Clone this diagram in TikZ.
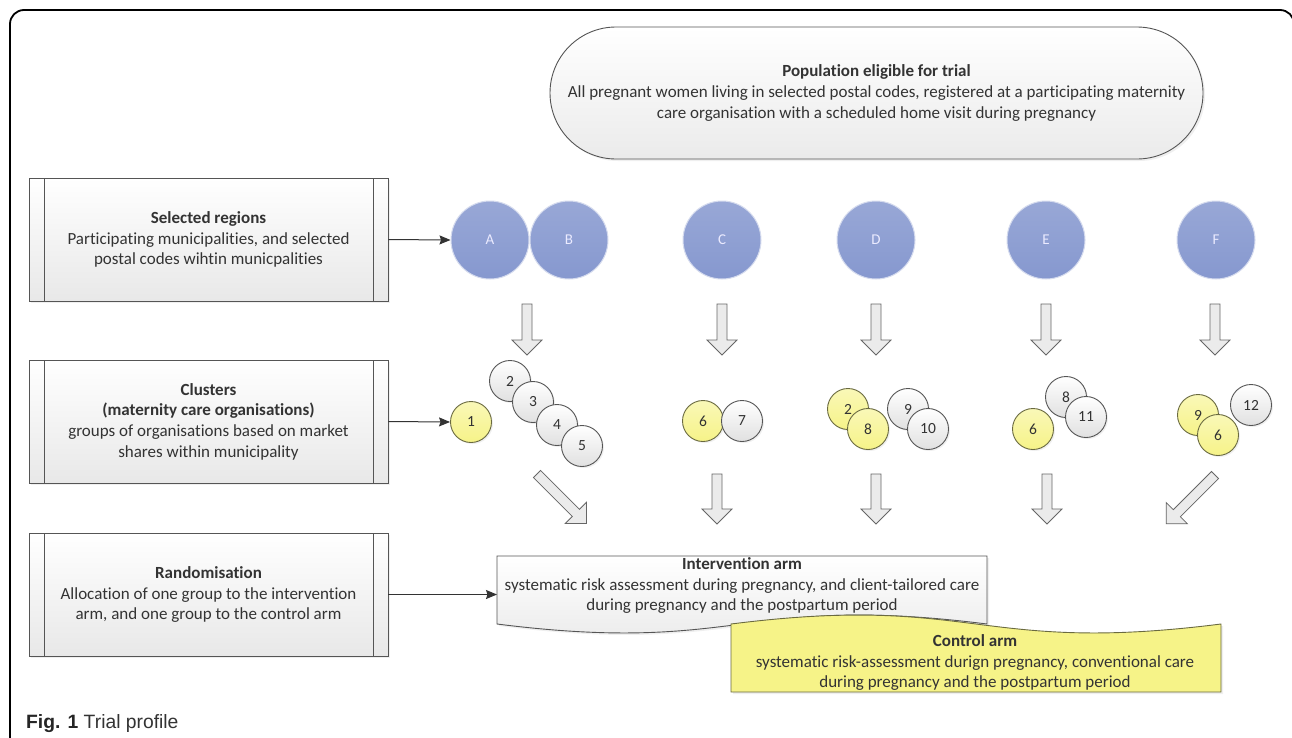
\documentclass[tikz,border=0pt]{standalone}
\usepackage{fontspec}
\setmainfont{Carlito}[Ligatures=CommonOff]
\newfontfamily\capfont{Liberation Sans}
\usetikzlibrary{arrows.meta,shadows}
\definecolor{txt}{HTML}{333333}
\definecolor{bord}{HTML}{555555}
\definecolor{blueC}{HTML}{8698CF}
\definecolor{yel}{HTML}{F6F388}
\definecolor{yelB}{HTML}{6A6A40}
\definecolor{arrfill}{HTML}{EBEBEB}
\newcommand\blkarrow[4]{%
  \begin{scope}[shift={(#1,#2)}, rotate=#3]
    \draw[blkarr] (0,-5) -- ({#4-15},-5) -- ({#4-15},-15) -- (#4,0) -- ({#4-15},15) -- ({#4-15},5) -- (0,5) -- cycle;
  \end{scope}}
\tikzset{
  procbox/.style={draw=bord, line width=0.9pt, top color=white, bottom color=black!9,
    minimum width=359pt, minimum height=123pt, inner sep=0pt, align=center,
    drop shadow={shadow xshift=2pt, shadow yshift=-2pt, opacity=0.12},
    path picture={
      \draw[bord, line width=0.9pt] ([xshift=15pt]path picture bounding box.north west) -- ([xshift=15pt]path picture bounding box.south west);
      \draw[bord, line width=0.9pt] ([xshift=-15pt]path picture bounding box.north east) -- ([xshift=-15pt]path picture bounding box.south east);}},
  popbox/.style={draw=bord, line width=0.9pt, top color=white, bottom color=black!8,
    rounded corners=66pt, minimum width=653pt, minimum height=132pt, inner sep=0pt, align=center,
    drop shadow={shadow xshift=2pt, shadow yshift=-2pt, opacity=0.12}},
  region/.style={circle, minimum size=78pt, inner sep=0pt, top color=blueC!85!white, bottom color=blueC,
    draw=blueC!35!white, line width=1pt, text=white!92!blue, font=\fontsize{15pt}{17pt}\selectfont},
  wcl/.style={circle, minimum size=41pt, inner sep=0pt, draw=bord, line width=0.9pt,
    top color=white, bottom color=black!12, text=txt, font=\fontsize{15.5pt}{17pt}\selectfont,
    drop shadow={shadow xshift=1.5pt, shadow yshift=-1.5pt, opacity=0.12}},
  ycl/.style={wcl, top color=yel!60!white, bottom color=yel, draw=yelB},
  conn/.style={draw=black!80, line width=1pt, -{Stealth[length=11pt,width=9pt,inset=1.5pt]}},
  blkarr/.style={draw=black!60, line width=0.8pt, fill=arrfill},
  armtext/.style={align=center, inner sep=0pt, text=txt},
}
\begin{document}
\begin{tikzpicture}[x=1pt,y=-1pt, font=\fontsize{17pt}{20.7pt}\selectfont, text=txt]
\useasboundingbox (0,0) rectangle (1292,737);
\fill[white] (0,0) rectangle (1292,737);
\begin{scope}
\clip (0,0) rectangle (1292,737);
\draw[line width=1.8pt, rounded corners=14pt] (10,760) -- (10,10) -- (1294,10) -- (1294,100);
\end{scope}

% left process boxes
\node[procbox] (b1) at (208.5,239.5) {\textbf{Selected regions}\\Participating municipalities, and selected\\postal codes wihtin municpalities};
\node[procbox] (b2) at (208.5,421.5) {\textbf{Clusters}\\\textbf{(maternity care organisations)}\\groups of organisations based on market\\shares within municipality};
\node[procbox] (b3) at (208.5,594.5) {\textbf{Randomisation}\\Allocation of one group to the intervention\\arm, and one group to the control arm};

% population
\node[popbox] (pop) at (876.5,93) {\textbf{Population eligible for trial}\\All pregnant women living in selected postal codes, registered at a participating maternity\\care organisation with a scheduled home visit during pregnancy};

% regions
\node[region] (A) at (490,240) {A};
\node[region] (B) at (569,240) {B};
\node[region] (C) at (722,240) {C};
\node[region] (D) at (876,240) {D};
\node[region] (E) at (1046,240) {E};
\node[region] (F) at (1216,240) {F};

% block arrows row 1
\blkarrow{527}{304}{-90}{51}
\blkarrow{722}{304}{-90}{51}
\blkarrow{876}{304}{-90}{51}
\blkarrow{1046}{304}{-90}{51}
\blkarrow{1215}{304}{-90}{51}

% clusters
\node[ycl] (c1) at (471,422) {1};
\node[wcl] (a2) at (510,381) {2};
\node[wcl] (a3) at (533,402) {3};
\node[wcl] (a4) at (557,425) {4};
\node[wcl] (a5) at (582,446) {5};
\node[ycl] (c6) at (703,421) {6};
\node[wcl] (c7) at (742,421) {7};
\node[ycl] (d2) at (848,409) {2};
\node[ycl] (d8) at (868,429) {8};
\node[wcl] (d9) at (908,409) {9};
\node[wcl] (d10) at (928,429) {10};
\node[wcl] (e8) at (1066,397) {8};
\node[wcl] (e11) at (1086,417) {11};
\node[ycl] (e6) at (1033,429) {6};
\node[wcl] (f12) at (1251,405) {12};
\node[ycl] (f9) at (1198,415) {9};
\node[ycl] (f6) at (1218,435) {6};

% block arrows row 2
\blkarrow{537}{474}{-45}{70}
\blkarrow{717}{474}{-90}{50}
\blkarrow{876}{474}{-90}{50}
\blkarrow{1047}{474}{-90}{50}
\blkarrow{1215}{475}{-135}{69}

% arms
\draw[draw=bord, line width=0.9pt, top color=white, bottom color=black!9,
  drop shadow={shadow xshift=2pt, shadow yshift=-2pt, opacity=0.12}]
  (497,556) -- (987,556) -- (987,624) .. controls (742,593) and (742,655) .. (497,624) -- cycle;
\node[armtext] (int) at (742,585.5) {\textbf{Intervention arm}\\systematic risk assessment during pregnancy, and client-tailored care\\during pregnancy and the postpartum period};
\coordinate (intW) at (497,594);

\draw[draw=yelB, line width=0.9pt, fill=yel,
  drop shadow={shadow xshift=2pt, shadow yshift=-2pt, opacity=0.12}]
  (731,692) -- (731,624) .. controls (976,593) and (976,655) .. (1221,624) -- (1221,692) -- cycle;
\node[armtext] (ctl) at (975,662.5) {\textbf{Control arm}\\systematic risk-assessment durign pregnancy, conventional care\\during pregnancy and the postpartum period};

% connectors
\draw[conn] (b1.east) -- (A.west);
\draw[conn] (b2.east) -- (c1.west);
\draw[conn] (b3.east) -- (b3.east -| intW);

% caption
\node[anchor=base west, inner sep=0pt] (cap) at (26,728) {\capfont\fontsize{19.3pt}{22pt}\selectfont\color{black!85}\textbf{Fig. 1} \color{txt}Trial profile};
\end{tikzpicture}
\end{document}
